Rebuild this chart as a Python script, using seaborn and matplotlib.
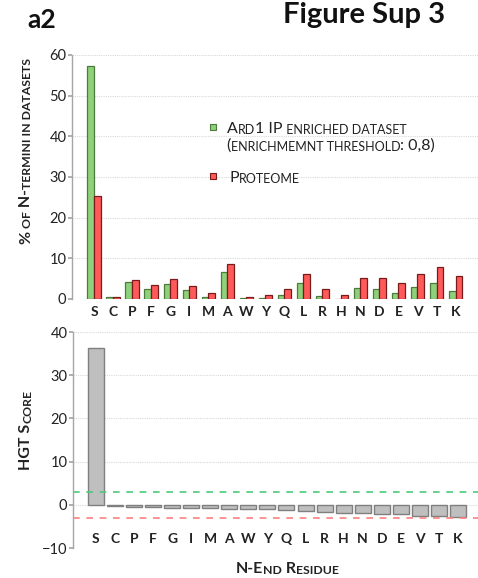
import numpy as np
import pandas as pd
import seaborn as sns
import matplotlib.pyplot as plt
from matplotlib.patches import Rectangle
from matplotlib.transforms import ScaledTranslation

residues = ["S", "C", "P", "F", "G", "I", "M", "A", "W", "Y",
            "Q", "L", "R", "H", "N", "D", "E", "V", "T", "K"]
ard1_pct = [57.3, 0.6, 4.3, 2.5, 3.8, 2.1, 0.6, 6.6, 0.2, 0.3,
            1.1, 3.9, 0.8, 0.1, 2.8, 2.4, 1.5, 2.9, 3.9, 2.0]
proteome_pct = [25.3, 0.6, 4.7, 3.4, 4.9, 3.1, 1.5, 8.5, 0.6, 1.1,
                2.4, 6.1, 2.5, 1.1, 5.2, 5.2, 4.0, 6.1, 7.8, 5.6]
hgt_score = [36.3, -0.2, -0.4, -0.6, -0.8, -0.8, -0.85, -1.0, -1.0, -1.0,
             -1.1, -1.4, -1.6, -1.8, -1.8, -2.2, -2.2, -2.5, -2.6, -2.8]
upper_thr = 3.0
lower_thr = -3.0
series_names = ["Ard1 IP enriched dataset", "Proteome"]

GREEN = "#8fd07a"
RED = "#ff5a5a"
GRAY = "#bfbfbf"
TXT = "#222222"
FONT = ["Lato", "DejaVu Sans"]


def split_runs(text):
    # lowercase letters -> small uppercase; spaces stick to the next char
    runs = []
    pending = ""
    for ch in text:
        if ch == " ":
            pending += ch
            continue
        is_small = ch.islower()
        c = pending + ch.upper()
        pending = ""
        if runs and runs[-1][1] == is_small:
            runs[-1][0] += c
        else:
            runs.append([c, is_small])
    return runs


def smallcaps(ax, x, y, text, big, small, weight="normal", rotation=0,
              transform=None):
    if transform is None:
        transform = ax.transAxes
    texts = []
    prev = None
    for s, is_small in split_runs(text):
        size = small if is_small else big
        kw = dict(fontsize=size, fontweight=weight, color=TXT, family=FONT,
                  rotation=rotation)
        if prev is None:
            if rotation == 90:
                t = ax.text(x, y, s, transform=transform, ha="right",
                            va="bottom", **kw)
            else:
                t = ax.text(x, y, s, transform=transform, ha="left",
                            va="baseline", **kw)
        else:
            if rotation == 90:
                t = ax.annotate(s, xy=(1, 1), xycoords=prev, ha="right",
                                va="bottom", annotation_clip=False, **kw)
            else:
                t = ax.annotate(s, xy=(1, 0), xycoords=prev, ha="left",
                                va="bottom", annotation_clip=False, **kw)
        texts.append(t)
        prev = t
    return texts


def centered_smallcaps(ax, x, y, text, big, small, rotation=0, transform=None):
    texts = smallcaps(ax, x, y, text, big, small, "bold", rotation, transform)
    fig = ax.figure
    fig.canvas.draw()
    r = fig.canvas.get_renderer()
    bbs = [t.get_window_extent(r) for t in texts]
    if rotation == 90:
        length = bbs[-1].y1 - bbs[0].y0
        off = ScaledTranslation(0, -length / 2 / fig.dpi, fig.dpi_scale_trans)
    else:
        length = bbs[-1].x1 - bbs[0].x0
        off = ScaledTranslation(-length / 2 / fig.dpi, 0, fig.dpi_scale_trans)
    texts[0].set_transform(texts[0].get_transform() + off)
    return texts


sns.set_theme(style="white")
plt.rcParams["font.family"] = FONT

fig = plt.figure(figsize=(4.78, 5.78), dpi=100)
ax1 = fig.add_axes([72 / 478, 1 - 299 / 578, 1 - 72 / 478, 244 / 578])
ax2 = fig.add_axes([73 / 478, 1 - 548 / 578, 1 - 73 / 478, 216 / 578])

# top: percentages
df = pd.DataFrame({
    "residue": residues * 2,
    "pct": ard1_pct + proteome_pct,
    "set": [series_names[0]] * len(residues) + [series_names[1]] * len(residues),
})
sns.barplot(data=df, x="residue", y="pct", hue="set", order=residues,
            hue_order=series_names, palette=[GREEN, RED], width=0.7,
            ax=ax1, legend=False, zorder=3, saturation=1)
for p in ax1.patches:
    p.set_edgecolor("#4d7a3d" if p.get_facecolor()[1] > 0.6 else "#7a1a1a")
    p.set_linewidth(0.9)
ax1.set_xlim(-1.16, 20.18)
ax1.set_ylim(0, 60)
ax1.set_yticks(np.arange(0, 61, 10))
ax1.set_xlabel("")
ax1.set_ylabel("")

# bottom: HGT scores
sns.barplot(x=residues, y=hgt_score, color=GRAY, width=0.84, ax=ax2,
            edgecolor="#7f7f7f", linewidth=1.0, zorder=3, saturation=1)
ax2.axhline(upper_thr, color="#4ccb7a", ls=(0, (4, 4)), lw=1.2, zorder=4)
ax2.axhline(lower_thr, color="#ff7f7f", ls=(0, (4, 4)), lw=1.2, zorder=4)
ax2.set_xlim(-1.2, 20.05)
ax2.set_ylim(-10, 40)
ax2.set_yticks(np.arange(-10, 41, 10))

for ax in (ax1, ax2):
    for s in ("top", "right", "bottom"):
        ax.spines[s].set_visible(False)
    ax.spines["left"].set_color("#a6a6a6")
    ax.spines["left"].set_linewidth(1.0)
    ax.grid(axis="y", color="#d9d9d9", ls=(0, (1, 1)), lw=0.8, zorder=0)
    ax.tick_params(axis="y", left=True, length=3, color="#a6a6a6",
                   labelsize=10.5, labelcolor=TXT, pad=1)
    ax.tick_params(axis="x", bottom=False, length=0, labelsize=10)
    for lab in ax.get_xticklabels():
        lab.set_fontweight("bold")
        lab.set_color(TXT)

ax1.tick_params(axis="x", pad=5)
ax2.tick_params(axis="x", pad=-11)
ax2.set_xlabel("")
ax2.set_ylabel("")

# legend drawn by hand (small caps text)
for yy, col, ec in [(0.705, GREEN, "#4d7a3d"), (0.504, RED, "#7a1a1a")]:
    ax1.add_patch(Rectangle((0.340, yy - 0.013), 0.015, 0.026, transform=ax1.transAxes,
                            facecolor=col, edgecolor=ec, lw=0.8, clip_on=False, zorder=5))
smallcaps(ax1, 0.382, 0.68, "Ard1 IP enriched dataset", 11.5, 9)
smallcaps(ax1, 0.380, 0.61, "(enrichmemnt threshold: 0,8)", 11.5, 9)
smallcaps(ax1, 0.388, 0.48, "Proteome", 11.5, 9)

# axis titles
centered_smallcaps(ax1, 33 / 478, 1 - 151 / 578, "% of N-termini in datasets",
                   11.5, 8.8, rotation=90, transform=fig.transFigure)
centered_smallcaps(ax2, 33 / 478, 1 - 430 / 578, "HGT Score",
                   11.5, 8.8, rotation=90, transform=fig.transFigure)
centered_smallcaps(ax2, 287 / 478, 1 - 573 / 578, "N-End Residue",
                   11.5, 8.8, transform=fig.transFigure)

fig.text(27 / 478, 1 - 28 / 578, "a2", fontsize=19, fontweight="bold",
         color="#111111", family=FONT)
fig.text(283 / 478, 1 - 23 / 578, "Figure Sup 3", fontsize=21, fontweight="bold",
         color="#111111", family=FONT)

fig.savefig("out.png", dpi=100)
